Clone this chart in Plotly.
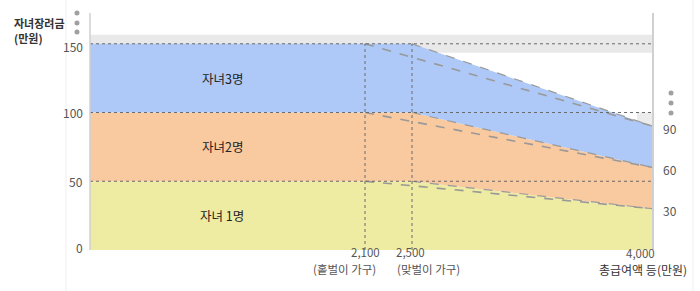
import numpy as np
import plotly.graph_objects as go

# ---------------- data ----------------
tier_labels = ["자녀 1명", "자녀2명", "자녀3명"]
max_benefit = [50, 100, 150]          # 만원, flat region
end_benefit = [30, 60, 90]            # 만원, at 4,000
single_income = 2100                  # 홑벌이 가구 threshold
dual_income = 2500                    # 맞벌이 가구 threshold
max_income = 4000                     # 총급여액 상한
y_ticks = [0, 50, 100, 150]
right_ticks = [30, 60, 90]
x_tick_values = [2100, 2500, 4000]
x_tick_text = ["2,100", "2,500", "4,000"]
x_tick_notes = ["(홑벌이 가구)", "(맞벌이 가구)", "총급여액 등(만원)"]
y_title_lines = ["자녀장려금", "(만원)"]

# ---------------- schematic (non-linear) x scale ----------------
INCOME_KNOTS = [0, 2100, 2500, 4000]
POS_KNOTS = [0, 275, 322, 563]


def xpos(v):
    return np.interp(v, INCOME_KNOTS, POS_KNOTS)


fill_colors = ["#eeeba2", "#f9c9a0", "#aec9f7"]
FONT = "Noto Sans CJK KR"
LEFT_LABEL_SHIFT = {0: 3, 50: 0, 100: 0, 150: -3}

fig = go.Figure()

# stacked fill areas
for i, (mx, en) in enumerate(zip(max_benefit, end_benefit)):
    xs = xpos([0, dual_income, max_income])
    fig.add_trace(go.Scatter(
        x=xs, y=[mx, mx, en], mode="lines",
        line=dict(width=0), fill="tozeroy" if i == 0 else "tonexty",
        fillcolor=fill_colors[i], hoverinfo="skip", showlegend=False))

# boundary lines of dual-earner (fill edge) and single-earner dashed lines
for mx, en in zip(max_benefit, end_benefit):
    fig.add_trace(go.Scatter(
        x=xpos([dual_income, max_income]), y=[mx, en], mode="lines",
        line=dict(color="#9a9a9a", width=1.2, dash="dash"),
        hoverinfo="skip", showlegend=False))
    fig.add_trace(go.Scatter(
        x=xpos([single_income, max_income]), y=[mx, en], mode="lines",
        line=dict(color="#999999", width=1.6, dash="dash"),
        hoverinfo="skip", showlegend=False))

shapes = []
# gray break bands
shapes.append(dict(type="rect", xref="paper", yref="y", x0=0, x1=1,
                   y0=143.5, y1=156.5, fillcolor="#e9e9e9", line_width=0, layer="below"))
shapes.append(dict(type="rect", xref="paper", yref="y", x0=0.9716, x1=1,
                   y0=88, y1=100, fillcolor="#ececec", line_width=0, layer="below"))
# horizontal dotted lines
for v in y_ticks[1:]:
    shapes.append(dict(type="line", xref="paper", yref="y", x0=0, x1=1, y0=v, y1=v,
                       line=dict(color="#6a6a6a", width=1, dash="dot"), layer="above"))
# vertical dotted lines
for v in [single_income, dual_income]:
    shapes.append(dict(type="line", xref="x", yref="y", x0=xpos(v), x1=xpos(v),
                       y0=0, y1=max(max_benefit),
                       line=dict(color="#6a6a6a", width=1, dash="dot"), layer="above"))
# axis lines
shapes.append(dict(type="line", xref="paper", yref="paper", x0=0, x1=0, y0=0, y1=1,
                   line=dict(color="#cfcfcf", width=1.5), layer="above"))
shapes.append(dict(type="line", xref="paper", yref="paper", x0=1, x1=1, y0=0, y1=1,
                   line=dict(color="#d0d0d0", width=2), layer="above"))
# faint outer frame lines
for xp in [-0.0426, 1.071]:
    shapes.append(dict(type="line", xref="paper", yref="paper", x0=xp, x1=xp, y0=-0.18, y1=1.06,
                       line=dict(color="#f0f0f0", width=1), layer="below"))
# break dots
for xp, ys in [(-0.0231, [1.0, 0.958, 0.920]), (1.032, [0.6624, 0.620, 0.578])]:
    for yp in ys:
        shapes.append(dict(type="circle", xref="paper", yref="paper",
                           xsizemode="pixel", ysizemode="pixel",
                           xanchor=xp, yanchor=yp, x0=-2.5, x1=2.5, y0=-2.5, y1=2.5,
                           fillcolor="#a0a0a0", line_width=0))

annotations = []
# band labels
for lab, mx in zip(tier_labels, max_benefit):
    annotations.append(dict(x=132, y=mx - 25, xref="x", yref="y", text=lab, showarrow=False,
                            font=dict(family=FONT, size=12.5, color="#222222")))
# left tick labels
for v in y_ticks:
    annotations.append(dict(x=0, y=v, xref="paper", yref="y", text=str(v), showarrow=False,
                            xanchor="right", xshift=-5, yshift=LEFT_LABEL_SHIFT[v],
                            font=dict(family=FONT, size=12, color="#555555")))
# right tick labels
for v in right_ticks:
    annotations.append(dict(x=1, y=v, xref="paper", yref="y", text=str(v), showarrow=False,
                            xanchor="center", xshift=17, yshift=-2,
                            font=dict(family=FONT, size=12, color="#555555")))
# bottom labels
annotations.append(dict(x=xpos(x_tick_values[0]), y=-0.05, xref="x", yref="paper",
                        text=x_tick_text[0], showarrow=False, xanchor="center",
                        font=dict(family=FONT, size=11.5, color="#555555")))
annotations.append(dict(x=xpos(x_tick_values[0]), y=-0.122, xref="x", yref="paper",
                        text=x_tick_notes[0], showarrow=False, xanchor="right", xshift=13,
                        font=dict(family=FONT, size=11.5, color="#555555")))
annotations.append(dict(x=xpos(x_tick_values[1]), y=-0.05, xref="x", yref="paper",
                        text=x_tick_text[1], showarrow=False, xanchor="center", xshift=-2,
                        font=dict(family=FONT, size=11.5, color="#555555")))
annotations.append(dict(x=xpos(x_tick_values[1]), y=-0.122, xref="x", yref="paper",
                        text=x_tick_notes[1], showarrow=False, xanchor="left", xshift=-17,
                        font=dict(family=FONT, size=11.5, color="#555555")))
annotations.append(dict(x=xpos(x_tick_values[2]), y=-0.054, xref="x", yref="paper",
                        text=x_tick_text[2], showarrow=False, xanchor="center", xshift=-13,
                        font=dict(family=FONT, size=11.5, color="#555555")))
annotations.append(dict(x=xpos(x_tick_values[2]), y=-0.126, xref="x", yref="paper",
                        text=x_tick_notes[2], showarrow=False, xanchor="center", xshift=-10,
                        font=dict(family=FONT, size=12, color="#333333")))
# y-axis title (two lines)
for txt, yp in zip(y_title_lines, [1.0, 0.935]):
    annotations.append(dict(x=-0.1385, y=yp, xref="paper", yref="paper",
                            text=f"<b>{txt}</b>", showarrow=False,
                            xanchor="left", yanchor="top", align="left",
                            font=dict(family=FONT, size=11, color="#333333")))

fig.update_layout(
    width=700, height=291,
    margin=dict(l=90, r=47, t=13, b=41),
    paper_bgcolor="white", plot_bgcolor="white",
    showlegend=False,
    xaxis=dict(range=[0, POS_KNOTS[-1]], showgrid=False, zeroline=False,
               showticklabels=False, ticks="", showline=False, fixedrange=True),
    yaxis=dict(range=[0, 172.4], showgrid=False, zeroline=False,
               showticklabels=False, ticks="", showline=False, fixedrange=True),
    shapes=shapes, annotations=annotations,
)

fig.write_html("out.html")
